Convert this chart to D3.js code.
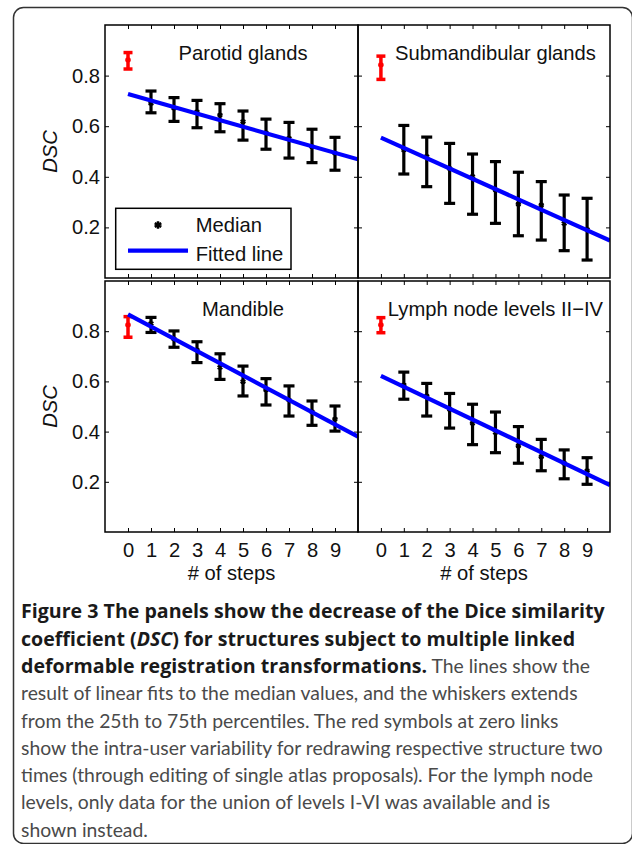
<!DOCTYPE html>
<html>
<head>
<meta charset="utf-8">
<script src="https://cdn.jsdelivr.net/npm/d3@7/dist/d3.min.js"></script>
<style>
  html, body { margin: 0; padding: 0; background: #fff; }
  svg { display: block; }
</style>
</head>
<body>
<svg id="chart" width="632" height="844"></svg>
<script>
// ---------------- data ----------------
const panelTitles = ["Parotid glands", "Submandibular glands", "Mandible", "Lymph node levels II\u2212IV"];
const steps = [1, 2, 3, 4, 5, 6, 7, 8, 9];
const xTickValues = [0, 1, 2, 3, 4, 5, 6, 7, 8, 9];
const yTickValues = [0.2, 0.4, 0.6, 0.8];
const yTickLabels = ["0.2", "0.4", "0.6", "0.8"];

// medians and 25th / 75th percentiles for steps 1..9
const parotidMedian = [0.690, 0.671, 0.657, 0.644, 0.618, 0.574, 0.552, 0.519, 0.493];
const parotidQ25    = [0.653, 0.619, 0.594, 0.578, 0.545, 0.509, 0.474, 0.456, 0.426];
const parotidQ75    = [0.739, 0.713, 0.702, 0.689, 0.660, 0.628, 0.615, 0.588, 0.556];

const submandMedian = [0.506, 0.480, 0.433, 0.401, 0.348, 0.292, 0.288, 0.216, 0.192];
const submandQ25    = [0.411, 0.361, 0.295, 0.252, 0.216, 0.167, 0.150, 0.108, 0.071];
const submandQ75    = [0.603, 0.557, 0.532, 0.490, 0.460, 0.418, 0.381, 0.328, 0.315];

const mandibleMedian = [0.831, 0.769, 0.725, 0.656, 0.599, 0.566, 0.526, 0.479, 0.450];
const mandibleQ25    = [0.795, 0.736, 0.675, 0.608, 0.542, 0.506, 0.462, 0.425, 0.402];
const mandibleQ75    = [0.855, 0.801, 0.758, 0.710, 0.661, 0.611, 0.582, 0.522, 0.502];

const lymphMedian = [0.586, 0.542, 0.489, 0.433, 0.397, 0.343, 0.300, 0.274, 0.244];
const lymphQ25    = [0.529, 0.462, 0.414, 0.348, 0.316, 0.274, 0.244, 0.212, 0.190];
const lymphQ75    = [0.637, 0.592, 0.552, 0.509, 0.478, 0.420, 0.369, 0.327, 0.296];

// intra-user variability at step 0 (red): [median, low, high] per panel
const intraMedian = [0.862, 0.842, 0.825, 0.825];
const intraLow    = [0.826, 0.785, 0.776, 0.794];
const intraHigh   = [0.891, 0.877, 0.858, 0.854];

// fitted lines: value at x = 0 and at x = 10
const fitX = [0, 10];
const parotidFit  = [0.727, 0.469];
const submandFit  = [0.555, 0.148];
const mandibleFit = [0.867, 0.380];
const lymphFit    = [0.622, 0.187];

const legendLabels = ["Median", "Fitted line"];
const xAxisLabel = "# of steps";
const yAxisLabel = "DSC";

const panelData = [
  { median: parotidMedian, q25: parotidQ25, q75: parotidQ75, fit: parotidFit },
  { median: submandMedian, q25: submandQ25, q75: submandQ75, fit: submandFit },
  { median: mandibleMedian, q25: mandibleQ25, q75: mandibleQ75, fit: mandibleFit },
  { median: lymphMedian, q25: lymphQ25, q75: lymphQ75, fit: lymphFit }
];

// ---------------- layout ----------------
const svg = d3.select("#chart");
const FONT = "'Liberation Sans', Arial, Helvetica, sans-serif";
const FS = 20.2;
const colX = [[105, 358], [358, 610]];
const rowY = [[25, 278], [281, 532]];

// outer frame
svg.append("rect")
  .attr("x", 13.5).attr("y", 7.5)
  .attr("width", 619).attr("height", 836)
  .attr("rx", 10).attr("ry", 10)
  .attr("fill", "none").attr("stroke", "#333").attr("stroke-width", 1.5);

panelTitles.forEach((title, i) => {
  const col = i % 2, row = Math.floor(i / 2);
  const [x0, x1] = colX[col];
  const [y0, y1] = rowY[row];
  const d = panelData[i];
  const x = d3.scaleLinear().domain([-1, 10]).range([x0, x1]);
  const y = d3.scaleLinear().domain([0, 1]).range([y1, y0]);
  const g = svg.append("g");

  // axes (inward ticks)
  const tickLen = 4;
  const bottom = g.append("g").attr("transform", `translate(0,${y1})`)
    .call(d3.axisBottom(x).tickValues(xTickValues).tickSize(-tickLen).tickPadding(11)
      .tickFormat(row === 1 ? d3.format("d") : () => ""));
  const top = g.append("g").attr("transform", `translate(0,${y0})`)
    .call(d3.axisTop(x).tickValues(xTickValues).tickSize(-tickLen).tickFormat(() => ""));
  const left = g.append("g").attr("transform", `translate(${x0},0)`)
    .call(d3.axisLeft(y).tickValues(yTickValues).tickSize(-tickLen).tickPadding(5)
      .tickFormat((v, k) => col === 0 ? yTickLabels[k] : ""));
  const right = g.append("g").attr("transform", `translate(${x1},0)`)
    .call(d3.axisRight(y).tickValues(yTickValues).tickSize(-tickLen).tickFormat(() => ""));
  [bottom, top, left, right].forEach(a => {
    a.select(".domain").remove();
    a.selectAll("line").attr("stroke", "#000").attr("stroke-width", 1);
    a.selectAll("text").attr("font-family", FONT).attr("font-size", FS).attr("fill", "#111");
  });

  // clip to panel
  const clipId = "clip" + i;
  svg.append("clipPath").attr("id", clipId).append("rect")
    .attr("x", x0).attr("y", y0).attr("width", x1 - x0).attr("height", y1 - y0);
  const plot = g.append("g").attr("clip-path", `url(#${clipId})`);

  // error bars
  const capHalf = 5.5;
  const bars = plot.append("g").selectAll("g").data(steps).join("g");
  bars.append("line")
    .attr("x1", s => x(s)).attr("x2", s => x(s))
    .attr("y1", (s, k) => y(d.q25[k])).attr("y2", (s, k) => y(d.q75[k]))
    .attr("stroke", "#000").attr("stroke-width", 3.2);
  bars.append("line")
    .attr("x1", s => x(s) - capHalf).attr("x2", s => x(s) + capHalf)
    .attr("y1", (s, k) => y(d.q25[k])).attr("y2", (s, k) => y(d.q25[k]))
    .attr("stroke", "#000").attr("stroke-width", 3.2);
  bars.append("line")
    .attr("x1", s => x(s) - capHalf).attr("x2", s => x(s) + capHalf)
    .attr("y1", (s, k) => y(d.q75[k])).attr("y2", (s, k) => y(d.q75[k]))
    .attr("stroke", "#000").attr("stroke-width", 3.2);
  bars.append("path")
    .attr("transform", (s, k) => `translate(${x(s)},${y(d.median[k])})`)
    .attr("d", d3.symbol(d3.symbolAsterisk, 22)())
    .attr("fill", "none").attr("stroke", "#000").attr("stroke-width", 2);

  // intra-user (red) at step 0
  const rx = x(0), rHalf = 4.5;
  const red = plot.append("g");
  red.append("line").attr("x1", rx).attr("x2", rx)
    .attr("y1", y(intraLow[i])).attr("y2", y(intraHigh[i]))
    .attr("stroke", "#ff0000").attr("stroke-width", 3.5);
  [intraLow[i], intraHigh[i]].forEach(v => {
    red.append("line").attr("x1", rx - rHalf).attr("x2", rx + rHalf)
      .attr("y1", y(v)).attr("y2", y(v))
      .attr("stroke", "#ff0000").attr("stroke-width", 3.5);
  });
  red.append("path")
    .attr("transform", `translate(${rx},${y(intraMedian[i])})`)
    .attr("d", d3.symbol(d3.symbolAsterisk, 22)())
    .attr("fill", "none").attr("stroke", "#ff0000").attr("stroke-width", 2.2);

  // fitted line
  plot.append("path")
    .datum(fitX.map((xv, k) => [xv, d.fit[k]]))
    .attr("d", d3.line().x(p => x(p[0])).y(p => y(p[1])))
    .attr("fill", "none").attr("stroke", "#0000ff").attr("stroke-width", 4.2);

  // panel border
  g.append("rect").attr("x", x0).attr("y", y0)
    .attr("width", x1 - x0).attr("height", y1 - y0)
    .attr("fill", "none").attr("stroke", "#000").attr("stroke-width", 1.5);

  // title
  g.append("text").attr("x", x(5)).attr("y", y(0.862))
    .attr("text-anchor", "middle").attr("font-family", FONT).attr("font-size", FS)
    .attr("fill", "#111").text(title);

  // y label
  if (col === 0) {
    g.append("text")
      .attr("transform", `translate(57,${(y0 + y1) / 2}) rotate(-90)`)
      .attr("text-anchor", "middle").attr("font-family", FONT).attr("font-size", FS)
      .attr("font-style", "italic").attr("fill", "#111").text(yAxisLabel);
  }
  // x label
  if (row === 1) {
    g.append("text").attr("x", (x0 + x1) / 2).attr("y", 580)
      .attr("text-anchor", "middle").attr("font-family", FONT).attr("font-size", FS)
      .attr("fill", "#111").text(xAxisLabel);
  }

  // legend in first panel
  if (i === 0) {
    const lg = g.append("g");
    lg.append("rect").attr("x", 115.7).attr("y", 208.3).attr("width", 175.3).attr("height", 61)
      .attr("fill", "#fff").attr("stroke", "#000").attr("stroke-width", 1.5);
    lg.append("path").attr("transform", "translate(158,225)")
      .attr("d", d3.symbol(d3.symbolAsterisk, 40)())
      .attr("fill", "none").attr("stroke", "#000").attr("stroke-width", 2.5);
    lg.append("line").attr("x1", 128).attr("x2", 188).attr("y1", 250.7).attr("y2", 250.7)
      .attr("stroke", "#0000ff").attr("stroke-width", 4.2);
    lg.selectAll("text.lg").data(legendLabels).join("text")
      .attr("x", 195.7).attr("y", (t, k) => k === 0 ? 232.3 : 261)
      .attr("font-family", FONT).attr("font-size", FS).attr("fill", "#111").text(t => t);
  }
});

// ---------------- caption ----------------
const BOLD_FONT = "'Open Sans', Lato, sans-serif";
const REG_FONT = "Lato, 'Open Sans', sans-serif";
const captionLines = [
  [["b", "Figure 3 The panels show the decrease of the Dice similarity"]],
  [["b", "coefficient ("], ["bi", "DSC"], ["b", ") for structures subject to multiple linked"]],
  [["b", "deformable registration transformations."], ["r", " The lines show the"]],
  [["r", "result of linear fits to the median values, and the whiskers extends"]],
  [["r", "from the 25th to 75th percentiles. The red symbols at zero links"]],
  [["r", "show the intra-user variability for redrawing respective structure two"]],
  [["r", "times (through editing of single atlas proposals). For the lymph node"]],
  [["r", "levels, only data for the union of levels I-VI was available and is"]],
  [["r", "shown instead."]]
];
const cap = svg.append("g");
const capX = 21;
const texts = captionLines.map((parts, li) => {
  const t = cap.append("text").attr("x", capX).attr("y", 618.3 + li * 27.3);
  parts.forEach(([style, str]) => {
    const bold = style[0] === "b";
    t.append("tspan")
      .attr("class", bold ? "cb" : "cr")
      .attr("font-family", bold ? BOLD_FONT : REG_FONT)
      .attr("font-size", 18)
      .attr("font-weight", bold ? 700 : 400)
      .attr("font-style", style === "bi" ? "italic" : "normal")
      .attr("fill", bold ? "#1a1a1a" : "#4a4a4a")
      .attr("xml:space", "preserve")
      .text(str);
  });
  return t;
});
// size the two caption faces to the widths of lines 1 and 4 in the reference
const boldW = texts[0].node().getComputedTextLength();
const regW = texts[3].node().getComputedTextLength();
cap.selectAll("tspan.cb").attr("font-size", 18 * 584 / boldW);
cap.selectAll("tspan.cr").attr("font-size", 18 * 557 / regW);
</script>
</body>
</html>
